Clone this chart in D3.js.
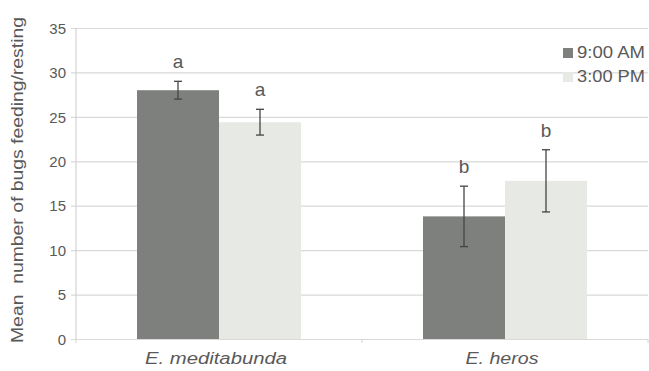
<!DOCTYPE html>
<html>
<head>
<meta charset="utf-8">
<script src="https://cdn.jsdelivr.net/npm/d3@7"></script>
<style>
  html, body { margin: 0; padding: 0; background: #ffffff; }
  svg { display: block; }
  text { font-family: "Liberation Sans", Arial, sans-serif; fill: #595959; }
</style>
</head>
<body>
<svg id="chart" width="649" height="371"></svg>
<script>
// Species compared
const categories = ["E. meditabunda", "E. heros"];
// Observation times (legend entries)
const seriesNames = ["9:00 AM", "3:00 PM"];
// Mean number of bugs feeding/resting
const morningMeans = [28.0, 13.8];
const afternoonMeans = [24.4, 17.8];
// Error bar half-lengths
const morningErr = [1.0, 3.4];
const afternoonErr = [1.45, 3.5];
// Significance letters above each bar
const morningLetters = ["a", "b"];
const afternoonLetters = ["a", "b"];
// Y axis ticks
const yTicks = [0, 5, 10, 15, 20, 25, 30, 35];

const colors = ["#7e807d", "#e7eae4"];

const svg = d3.select("#chart");
const plot = { left: 76, right: 648, top: 28, bottom: 339 };

const y = d3.scaleLinear().domain([0, 35]).range([plot.bottom, plot.top]);
const x0 = d3.scaleBand().domain(categories).range([plot.left, plot.right]).padding(0);
const x1 = d3.scaleBand().domain(seriesNames).range([0, x0.bandwidth()])
  .paddingInner(0).paddingOuter(0.744);

// horizontal gridlines with short outside ticks
const yAxis = d3.axisLeft(y).tickValues(yTicks)
  .tickSize(-(plot.right - plot.left) - 5).tickPadding(6).tickFormat(d3.format("d"));
const gy = svg.append("g").attr("transform", `translate(${plot.left - 5},0)`).call(yAxis);
gy.select(".domain").remove();
gy.selectAll(".tick line").attr("stroke", "#d9d9d9").attr("stroke-width", 1.2)
  .attr("x1", 0).attr("x2", plot.right - plot.left + 5);
gy.selectAll(".tick text").attr("x", -5).style("font-size", "15px").attr("fill", "#5a5a5a")
  .attr("text-anchor", "end").attr("dy", "0.35em");

// vertical axis line
svg.append("line").attr("x1", plot.left).attr("x2", plot.left)
  .attr("y1", plot.top).attr("y2", plot.bottom).attr("stroke", "#d4d4d4").attr("stroke-width", 1.2);

// category boundary ticks along the base
const bounds = [plot.left, plot.left + x0.bandwidth(), plot.right];
svg.selectAll("line.xtick").data(bounds).join("line").attr("class", "xtick")
  .attr("x1", d => d).attr("x2", d => d).attr("y1", plot.bottom).attr("y2", plot.bottom + 4)
  .attr("stroke", "#d4d4d4");

// grouped data rows
const rows = categories.map((c, i) => ({
  cat: c,
  vals: [
    { s: seriesNames[0], v: morningMeans[i], e: morningErr[i], l: morningLetters[i], k: 0 },
    { s: seriesNames[1], v: afternoonMeans[i], e: afternoonErr[i], l: afternoonLetters[i], k: 1 }
  ]
}));

const groups = svg.selectAll("g.grp").data(rows).join("g").attr("class", "grp")
  .attr("transform", d => `translate(${x0(d.cat)},0)`);

groups.selectAll("rect").data(d => d.vals).join("rect")
  .attr("x", d => x1(d.s)).attr("width", x1.bandwidth())
  .attr("y", d => y(d.v)).attr("height", d => y(0) - y(d.v))
  .attr("fill", d => colors[d.k]);

// error bars
const cap = 4;
const eb = groups.selectAll("g.err").data(d => d.vals).join("g").attr("class", "err")
  .attr("transform", d => `translate(${x1(d.s) + x1.bandwidth() / 2},0)`);
eb.append("line").attr("y1", d => y(d.v + d.e)).attr("y2", d => y(d.v - d.e))
  .attr("stroke", "#444").attr("stroke-width", 1.3);
eb.append("line").attr("x1", -cap).attr("x2", cap).attr("y1", d => y(d.v + d.e)).attr("y2", d => y(d.v + d.e))
  .attr("stroke", "#444").attr("stroke-width", 1.3);
eb.append("line").attr("x1", -cap).attr("x2", cap).attr("y1", d => y(d.v - d.e)).attr("y2", d => y(d.v - d.e))
  .attr("stroke", "#444").attr("stroke-width", 1.3);
eb.append("text").attr("text-anchor", "middle").attr("y", d => y(d.v + d.e) - 13)
  .style("font-size", "19px").attr("fill", "#555").text(d => d.l);

// category labels
const catWidths = [142, 73];
svg.selectAll("text.cat").data(categories).join("text").attr("class", "cat")
  .attr("x", d => x0(d) + x0.bandwidth() / 2 - 3).attr("y", 364)
  .attr("text-anchor", "middle").style("font-size", "16px").style("font-style", "italic")
  .attr("textLength", (d, i) => catWidths[i]).attr("lengthAdjust", "spacingAndGlyphs")
  .attr("fill", "#555").text(d => d);

// y axis title
svg.append("text").attr("transform", "translate(23,180) rotate(-90)")
  .attr("text-anchor", "middle").style("font-size", "16px").style("white-space", "pre")
  .attr("fill", "#5a5a5a")
  .attr("textLength", 326).attr("lengthAdjust", "spacingAndGlyphs")
  .text("Mean  number of bugs feeding/resting");

// legend
const legend = svg.append("g").attr("transform", "translate(563,47)");
const li = legend.selectAll("g").data(seriesNames).join("g")
  .attr("transform", (d, i) => `translate(0,${i * 24})`);
li.append("rect").attr("width", 10).attr("height", 10).attr("y", 1).attr("fill", (d, i) => colors[i]);
li.append("text").attr("x", 14).attr("y", 11).style("font-size", "16px").attr("fill", "#5a5a5a")
  .attr("textLength", 68).attr("lengthAdjust", "spacingAndGlyphs")
  .text(d => d);
</script>
</body>
</html>
